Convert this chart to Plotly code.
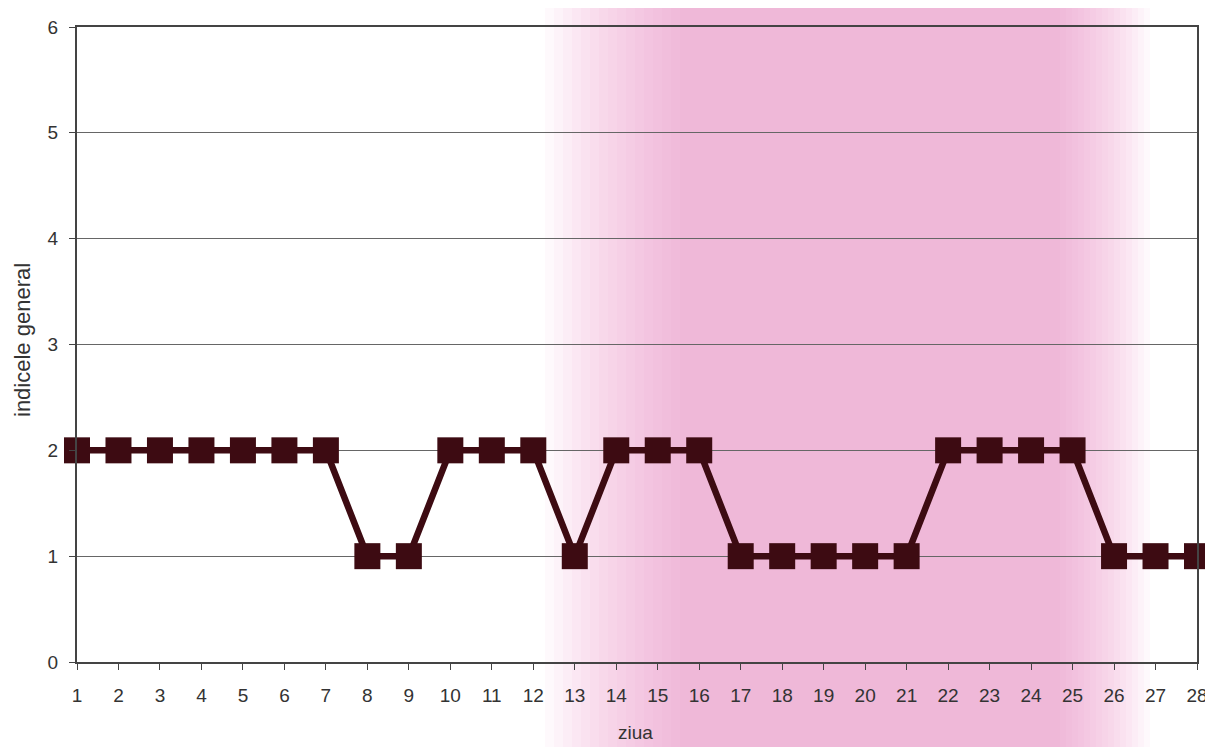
import plotly.graph_objects as go

days = list(range(1, 29))
indice = [2, 2, 2, 2, 2, 2, 2, 1, 1, 2, 2, 2, 1, 2, 2, 2, 1, 1, 1, 1, 1, 2, 2, 2, 2, 1, 1, 1]
y_ticks = [0, 1, 2, 3, 4, 5, 6]

# figure is drawn inside the page body (8px default margin)
OFF = 8
W, H = 1205, 739
L, R, T, B = 69, 16, 19, 85
pw = W - L - R
ph = H - T - B

def px_x(page_px):
    return (page_px - OFF - L) / pw

def px_y(page_py):
    return (H - B - (page_py - OFF)) / ph

fig = go.Figure()
fig.add_trace(go.Scatter(
    x=days, y=indice, mode="lines+markers",
    line=dict(color="#3d0b12", width=6.5),
    marker=dict(symbol="square", size=26, color="#3d0b12"),
    cliponaxis=False, showlegend=False,
))

shapes = []
n = 16
for i in range(n):
    a = 545 + (680 - 545) * i / (n - 1)
    b = 1150 - (1150 - 1060) * i / (n - 1)
    shapes.append(dict(type="rect", xref="paper", yref="paper",
                       x0=px_x(a), x1=px_x(b), y0=px_y(760), y1=px_y(0),
                       fillcolor="#f080c8", opacity=0.05, line=dict(width=0),
                       layer="below"))

fig.update_layout(
    width=W, height=H,
    margin=dict(l=L, r=R, t=T, b=B, autoexpand=False),
    paper_bgcolor="white", plot_bgcolor="rgba(0,0,0,0)",
    font=dict(family="Liberation Sans, Arial, sans-serif", size=19, color="#333333"),
    shapes=shapes,
    xaxis=dict(
        range=[1, 28], tickmode="array", tickvals=days,
        ticks="outside", ticklen=6, tickcolor="#444", ticklabelstandoff=9,
        ticklabeloverflow="allow",
        tickfont=dict(size=19, color="#333"),
        showgrid=False, zeroline=False, automargin=False,
        showline=True, linecolor="#444", linewidth=2, mirror=True,
    ),
    yaxis=dict(
        range=[0, 6], tickmode="array", tickvals=y_ticks,
        ticks="outside", ticklen=6, tickcolor="#444", ticklabelstandoff=7,
        ticklabeloverflow="allow",
        tickfont=dict(size=19, color="#333"),
        showgrid=True, gridcolor="#666", gridwidth=1, zeroline=False, automargin=False,
        showline=True, linecolor="#444", linewidth=2, mirror=True,
    ),
    annotations=[
        dict(text="ziua", xref="paper", yref="paper",
             x=px_x(635), y=px_y(732), xanchor="center", yanchor="middle",
             showarrow=False, font=dict(size=19, color="#333")),
        dict(text="indicele general", xref="paper", yref="paper",
             x=px_x(22), y=px_y(340), xanchor="center", yanchor="middle",
             showarrow=False, textangle=-90,
             font=dict(size=22, color="#333")),
    ],
)

fig.write_html("out.html")
